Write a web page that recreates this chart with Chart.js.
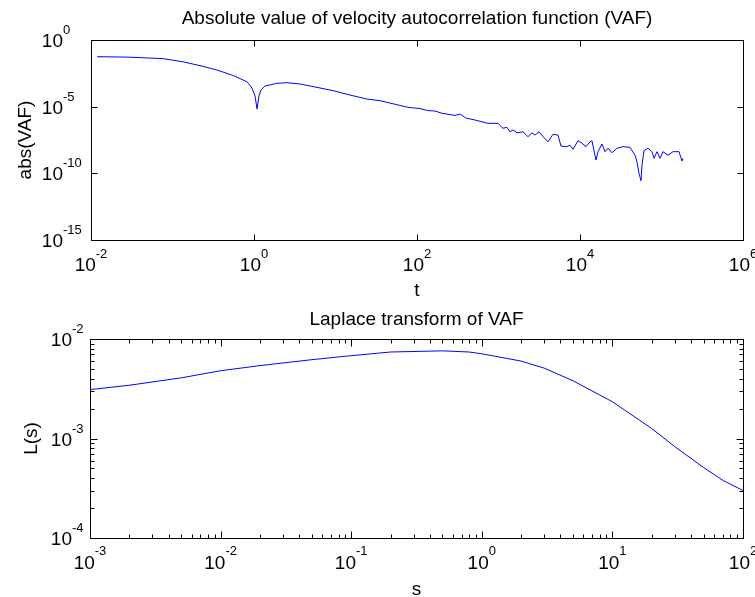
<!DOCTYPE html>
<html>
<head>
<meta charset="utf-8">
<script src="https://cdn.jsdelivr.net/npm/chart.js@4.4.1/dist/chart.umd.min.js"></script>
<style>
  html, body { margin: 0; padding: 0; background: #ffffff; }
  #wrap { position: relative; width: 755px; height: 597px; }
  canvas { position: absolute; left: 0; }
</style>
</head>
<body>
<div id="wrap">
  <canvas id="c1" width="755" height="300" style="top:0px"></canvas>
  <canvas id="c2" width="755" height="297" style="top:300px"></canvas>
</div>
<script>
// ---------- Data ----------
const tValues = [1.19e-2, 2.84e-2, 7.64e-2, 0.135, 0.217, 0.352, 0.552, 0.82, 0.944, 1.03, 1.09, 1.15, 1.22, 1.36, 1.91, 2.54, 3.66, 5.93, 9.31, 15.1, 24.4, 35.2, 77.6, 109, 136, 166, 203, 292, 339, 398, 515, 743, 986, 1135, 1271, 1384, 1507, 1687, 2000, 2301, 2576, 2805, 3141, 3516, 4046, 4667, 5370, 5848, 6918, 7534, 8204, 9441, 10593, 11858, 13274, 14028, 15704, 16634, 18621, 20277, 22080, 24717, 28445, 33729, 41020, 47315, 50003, 52966, 55976, 57677, 60954, 68234, 76384, 80910, 88105, 95940, 104232, 120226, 138357, 164059, 178649, 183654];
const vafValues = [5.6e-2, 5.2e-2, 4.0e-2, 2.3e-2, 1.2e-2, 5.6e-3, 2.2e-3, 7.4e-4, 2.5e-4, 6.3e-5, 6.6e-6, 6.3e-5, 1.8e-4, 3.5e-4, 5.6e-4, 6.3e-4, 5.0e-4, 2.8e-4, 1.6e-4, 7.4e-5, 3.7e-5, 2.8e-5, 8.9e-6, 7.2e-6, 5.1e-6, 4.7e-6, 3.2e-6, 2.2e-6, 2.8e-6, 1.4e-6, 1.0e-6, 5.6e-7, 5.6e-7, 2.4e-7, 2.8e-7, 1.3e-7, 1.8e-7, 1.1e-7, 1.3e-7, 5.6e-8, 1.1e-7, 7.4e-8, 1.3e-7, 5.6e-8, 2.3e-8, 8.5e-8, 7.4e-8, 1.1e-8, 1.0e-8, 1.3e-8, 6.3e-9, 2.8e-8, 1.8e-8, 1.0e-8, 2.3e-8, 2.8e-8, 1.0e-9, 4.2e-9, 1.6e-8, 4.2e-9, 7.6e-9, 3.5e-9, 7.6e-9, 1.0e-8, 8.9e-9, 2.3e-9, 7.4e-10, 1.0e-10, 2.8e-11, 4.2e-10, 5.0e-9, 7.6e-9, 4.2e-9, 1.35e-9, 4.2e-9, 1.35e-9, 4.2e-9, 2.3e-9, 4.2e-9, 4.2e-9, 8.3e-10, 1.35e-9];

const sValues = [0.001, 0.002, 0.005, 0.01, 0.02, 0.05, 0.1, 0.2, 0.5, 0.8, 1, 2, 3, 5, 10, 20, 30, 50, 70, 100];
const lValues = [3.1e-3, 3.43e-3, 4.07e-3, 4.8e-3, 5.4e-3, 6.2e-3, 6.8e-3, 7.4e-3, 7.6e-3, 7.4e-3, 7.1e-3, 6.0e-3, 5.1e-3, 3.8e-3, 2.34e-3, 1.26e-3, 8.3e-4, 5.1e-4, 3.8e-4, 3.0e-4];

// ---------- Tick values / labels ----------
const topXTicks = [1e-2, 1e0, 1e2, 1e4, 1e6];
const topXExps  = ['-2', '0', '2', '4', '6'];
const topYTicks = [1e0, 1e-5, 1e-10, 1e-15];
const topYExps  = ['0', '-5', '-10', '-15'];
const botXTicks = [1e-3, 1e-2, 1e-1, 1e0, 1e1, 1e2];
const botXExps  = ['-3', '-2', '-1', '0', '1', '2'];
const botYTicks = [1e-4, 1e-3, 1e-2];
const botYExps  = ['-4', '-3', '-2'];

const titleTop = 'Absolute value of velocity autocorrelation function (VAF)';
const xLabelTop = 't';
const yLabelTop = 'abs(VAF)';
const titleBot = 'Laplace transform of VAF';
const xLabelBot = 's';
const yLabelBot = 'L(s)';

const FONT_FAMILY = '"Liberation Sans", Arial, Helvetica, sans-serif';
const BASE_SIZE = 19;
const EXP_SIZE = 13;

function minorsBetween(ticks) {
  const out = [];
  for (let i = 0; i < ticks.length - 1; i++) {
    for (let k = 2; k <= 9; k++) out.push(ticks[i] * k);
  }
  return out;
}

function setFont(ctx, size) { ctx.font = size + 'px ' + FONT_FAMILY; }

function drawXPow(ctx, px, baseY, exp) {
  setFont(ctx, BASE_SIZE);
  const w10 = ctx.measureText('10').width;
  setFont(ctx, EXP_SIZE);
  const we = ctx.measureText(exp).width;
  const x0 = px - (w10 + we) / 2;
  ctx.textAlign = 'left';
  ctx.textBaseline = 'alphabetic';
  setFont(ctx, BASE_SIZE);
  ctx.fillText('10', x0, baseY);
  setFont(ctx, EXP_SIZE);
  ctx.fillText(exp, x0 + w10, baseY - 13.5);
}

function drawYPow(ctx, rightX, py, exp) {
  ctx.textBaseline = 'alphabetic';
  setFont(ctx, BASE_SIZE);
  ctx.textAlign = 'right';
  ctx.fillText('10', rightX, py + 7);
  setFont(ctx, EXP_SIZE);
  ctx.textAlign = 'left';
  ctx.fillText(exp, rightX, py - 6);
}

function matlabAxesPlugin(cfg) {
  return {
    id: 'matlabAxes',
    afterDraw(chart) {
      const ctx = chart.ctx;
      const a = chart.chartArea;
      const xs = chart.scales.x, ys = chart.scales.y;
      const L = Math.floor(a.left) + 0.5, R = Math.floor(a.right) + 0.5;
      const T = Math.floor(a.top) + 0.5, B = Math.floor(a.bottom) + 0.5;
      ctx.save();
      ctx.strokeStyle = '#000000';
      ctx.lineWidth = 1;
      // ticks
      const drawX = (vals, len) => {
        vals.forEach(v => {
          const x = Math.round(xs.getPixelForValue(v)) + 0.5;
          ctx.beginPath();
          ctx.moveTo(x, B); ctx.lineTo(x, B - len);
          ctx.moveTo(x, T); ctx.lineTo(x, T + len);
          ctx.stroke();
        });
      };
      const drawY = (vals, len) => {
        vals.forEach(v => {
          const y = Math.round(ys.getPixelForValue(v)) + 0.5;
          ctx.beginPath();
          ctx.moveTo(L, y); ctx.lineTo(L + len, y);
          ctx.moveTo(R, y); ctx.lineTo(R - len, y);
          ctx.stroke();
        });
      };
      drawX(cfg.xTicks, cfg.majorLen);
      drawY(cfg.yTicks, cfg.majorLen);
      if (cfg.minor) {
        drawX(minorsBetween(cfg.xTicks), cfg.minorLen);
        drawY(minorsBetween(cfg.yTicks), cfg.minorLen);
      }
      // box
      ctx.strokeRect(L, T, R - L, B - T);
      // tick labels
      ctx.fillStyle = '#000000';
      cfg.xTicks.forEach((v, i) => {
        drawXPow(ctx, xs.getPixelForValue(v), a.bottom + cfg.xLabelOffset, cfg.xExps[i]);
      });
      cfg.yTicks.forEach((v, i) => {
        drawYPow(ctx, a.left - cfg.yLabelOffset, ys.getPixelForValue(v), cfg.yExps[i]);
      });
      // title
      setFont(ctx, BASE_SIZE);
      ctx.textAlign = 'center';
      ctx.textBaseline = 'alphabetic';
      const cx = (a.left + a.right) / 2;
      ctx.fillText(cfg.title, cx, a.top - cfg.titleGap);
      // x label
      ctx.fillText(cfg.xLabel, cx, cfg.xLabelY);
      // y label
      ctx.save();
      ctx.translate(cfg.yLabelX, (a.top + a.bottom) / 2);
      ctx.rotate(-Math.PI / 2);
      ctx.textBaseline = 'middle';
      ctx.fillText(cfg.yLabel, 0, 0);
      ctx.restore();
      ctx.restore();
    }
  };
}

function makeChart(id, xs, ys, xr, yr, pad, cfg) {
  return new Chart(document.getElementById(id), {
    type: 'line',
    data: {
      datasets: [{
        data: xs.map((x, i) => ({ x: x, y: ys[i] })),
        borderColor: '#0000ff',
        borderWidth: 1,
        pointRadius: 0,
        tension: 0,
        fill: false
      }]
    },
    options: {
      responsive: false,
      animation: false,
      devicePixelRatio: 1,
      layout: { padding: pad },
      plugins: { legend: { display: false }, tooltip: { enabled: false }, title: { display: false } },
      scales: {
        x: { type: 'logarithmic', min: xr[0], max: xr[1], display: false },
        y: { type: 'logarithmic', min: yr[0], max: yr[1], display: false }
      }
    },
    plugins: [matlabAxesPlugin(cfg)]
  });
}

makeChart('c1', tValues, vafValues, [1e-2, 1e6], [1e-15, 1e0],
  { left: 91, right: 12, top: 40, bottom: 60 },
  { xTicks: topXTicks, xExps: topXExps, yTicks: topYTicks, yExps: topYExps,
    minor: false, majorLen: 6, minorLen: 0,
    xLabelOffset: 31, yLabelOffset: 28, title: titleTop, titleGap: 16,
    xLabel: xLabelTop, xLabelY: 296, yLabel: yLabelTop, yLabelX: 26 });

makeChart('c2', sValues, lValues, [1e-3, 1e2], [1e-4, 1e-2],
  { left: 90, right: 12, top: 39, bottom: 59 },
  { xTicks: botXTicks, xExps: botXExps, yTicks: botYTicks, yExps: botYExps,
    minor: true, majorLen: 7, minorLen: 4,
    xLabelOffset: 30.5, yLabelOffset: 18, title: titleBot, titleGap: 14,
    xLabel: xLabelBot, xLabelY: 295, yLabel: yLabelBot, yLabelX: 32 });
</script>
</body>
</html>
